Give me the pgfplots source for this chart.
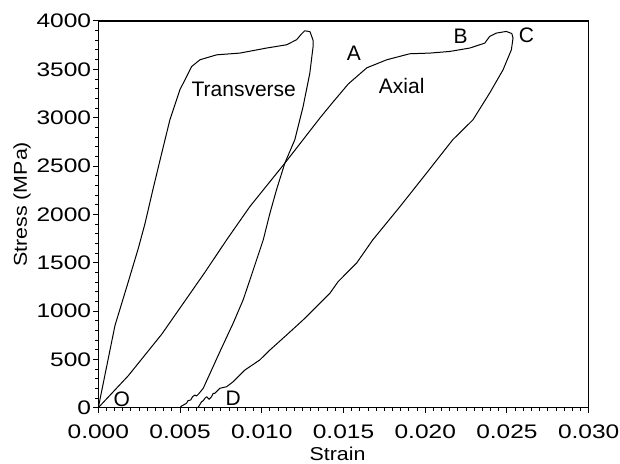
\documentclass[border=0pt]{standalone}
\usepackage{fontspec}
\setmainfont{Liberation Sans}
\newfontfamily\widefont{Liberation Sans}[FakeStretch=1.15]
\newfontfamily\tickfont{Liberation Sans}[FakeStretch=1.25]
\usepackage{pgfplots}
\pgfplotsset{compat=1.18}

\begin{document}
\begin{tikzpicture}
\begin{axis}[
    name=ax,
    scale only axis,
    width=245.2pt, height=193.35pt,
    xmin=0, xmax=0.03, ymin=0, ymax=4000,
    xtick={0,0.005,0.01,0.015,0.02,0.025,0.03},
    xticklabels={0.000,0.005,0.010,0.015,0.020,0.025,0.030},
    ytick={0,500,...,4000},
    minor x tick num=9, minor y tick num=4,
    tick align=outside, tick pos=left,
    major tick length=2.6pt, minor tick length=1.6pt,
    scaled x ticks=false,
    /pgf/number format/assume math mode=true,
    yticklabel style={/pgf/number format/1000 sep={}, xshift=2.5pt},
    xticklabel style={yshift=-2.5pt},
    tick label style={font=\tickfont\fontsize{9.8}{10}\selectfont},
    label style={font=\widefont\fontsize{9.3}{10}\selectfont},
    xlabel={Strain}, ylabel={Stress (MPa)},
    xlabel style={yshift=3pt, xshift=-3pt},
    ylabel style={yshift=-4pt, xshift=5pt},
    axis line style={line width=0.6pt},
    every tick/.style={black, line width=0.5pt},
    clip=false,
]
% transverse strain
\addplot[black, line width=0.5pt, mark=none, line join=round] coordinates {
    (0,0) (0.00102,850) (0.00183,1300) (0.00245,1650) (0.00285,1900)
    (0.00336,2270) (0.00388,2633) (0.00438,2978) (0.00499,3288)
    (0.00571,3529) (0.00622,3599) (0.00724,3650) (0.00866,3668)
    (0.01029,3720) (0.01152,3754) (0.01213,3806) (0.0124,3860)
    (0.01263,3899) (0.01295,3890) (0.01314,3800) (0.01314,3736)
    (0.01294,3461) (0.01253,3115) (0.01202,2771) (0.01141,2529)
    (0.0109,2253) (0.0105,2012) (0.01009,1736) (0.00927,1320)
    (0.00886,1115) (0.00825,874) (0.00744,580) (0.00693,390)
    (0.00642,201) (0.00617,149) (0.00601,121) (0.00591,131)
    (0.00577,114) (0.00565,80) (0.00548,72) (0.0054,46)
    (0.0051,18) (0.0050,0)
};
% axial strain
\addplot[black, line width=0.5pt, mark=none, line join=round] coordinates {
    (0,0) (0.00183,330) (0.00388,760) (0.00652,1400) (0.00785,1736)
    (0.00927,2080) (0.01141,2529) (0.01355,2995) (0.01435,3160)
    (0.0153,3350) (0.01643,3516) (0.01765,3599) (0.01905,3661)
    (0.02028,3668) (0.0215,3685) (0.02272,3720) (0.02364,3771)
    (0.02394,3840) (0.02435,3875) (0.02496,3892) (0.0253,3870)
    (0.02537,3823) (0.02527,3702) (0.02476,3495) (0.02394,3254)
    (0.02292,2978) (0.02168,2771) (0.02009,2429) (0.01844,2077)
    (0.01679,1736) (0.01581,1498) (0.01467,1304) (0.01417,1184)
    (0.01345,1063) (0.01253,908) (0.01152,752) (0.0105,597)
    (0.00988,494) (0.00897,390) (0.00825,269) (0.00785,217)
    (0.00744,201) (0.00733,183) (0.00713,149) (0.00703,149)
    (0.00693,114) (0.00678,87) (0.00663,114) (0.00652,97)
    (0.00642,72) (0.00632,62) (0.00611,4) (0.00605,0)
};
\node[font=\fontsize{10.5}{12}\selectfont] at (axis cs:0.0089,3297) {Transverse};
\node[font=\fontsize{10.5}{12}\selectfont] at (axis cs:0.01856,3332) {Axial};
\node[font=\fontsize{10.5}{12}\selectfont] at (axis cs:0.01564,3668) {A};
\node[font=\fontsize{10.5}{12}\selectfont] at (axis cs:0.02216,3840) {B};
\node[font=\fontsize{10.5}{12}\selectfont] at (axis cs:0.02619,3857) {C};
\node[font=\fontsize{10.5}{12}\selectfont] at (axis cs:0.00143,90) {O};
\node[font=\fontsize{10.5}{12}\selectfont] at (axis cs:0.00825,97) {D};
\end{axis}
\pgfresetboundingbox
\path ([shift={(-49.15pt,-28.15pt)}]ax.south west) rectangle ++(310pt,232pt);
\end{tikzpicture}
\end{document}
